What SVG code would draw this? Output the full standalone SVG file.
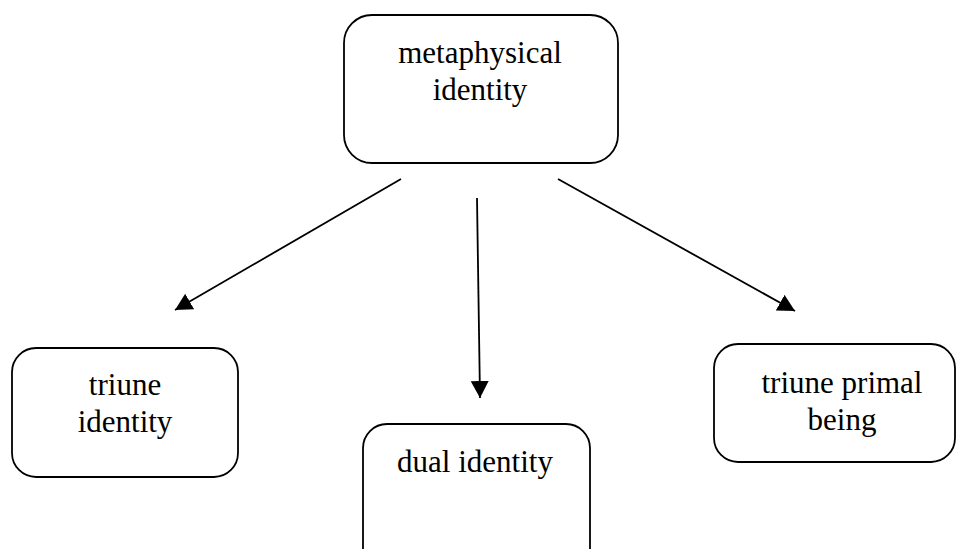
<svg xmlns="http://www.w3.org/2000/svg" width="957" height="549" viewBox="0 0 957 549">
<defs>
<style>
.box{fill:#fff;stroke:#000;stroke-width:1.8}
.t{font-family:'Liberation Serif','DejaVu Serif',serif;font-size:31px;fill:#000;text-anchor:middle}
.c{stroke:#000;stroke-width:1.8;fill:none}
</style>
<marker id="ah" markerUnits="userSpaceOnUse" markerWidth="20" markerHeight="20" viewBox="0 0 20 20" refX="17" refY="9" orient="auto">
<path d="M0,0 L17,9 L0,18 Z" fill="#000"/>
</marker>
</defs>
<rect width="957" height="549" fill="#fff"/>
<g id="metaphysical">
<rect class="box" x="344" y="15" width="274" height="148" rx="28"/>
<text class="t" x="480" y="63" font-family="Liberation Serif">metaphysical</text>
<text class="t" x="480" y="100" font-family="Liberation Serif">identity</text>
</g>
<g id="triune-identity">
<rect class="box" x="12" y="348" width="226" height="129" rx="24"/>
<text class="t" x="125" y="395" font-family="Liberation Serif">triune</text>
<text class="t" x="125" y="432" font-family="Liberation Serif">identity</text>
</g>
<g id="dual-identity">
<rect class="box" x="363" y="424" width="227" height="150" rx="24"/>
<text class="t" x="475" y="472" font-family="Liberation Serif">dual identity</text>
</g>
<g id="triune-primal">
<rect class="box" x="714" y="344" width="241" height="118" rx="24"/>
<text class="t" x="842" y="393" font-family="Liberation Serif">triune primal</text>
<text class="t" x="842" y="430" font-family="Liberation Serif">being</text>
</g>
<g id="connectors">
<line class="c" x1="401" y1="179" x2="175" y2="310" marker-end="url(#ah)"/>
<line class="c" x1="477" y1="198" x2="480" y2="398" marker-end="url(#ah)"/>
<line class="c" x1="558" y1="179" x2="795" y2="311" marker-end="url(#ah)"/>
</g>
</svg>
